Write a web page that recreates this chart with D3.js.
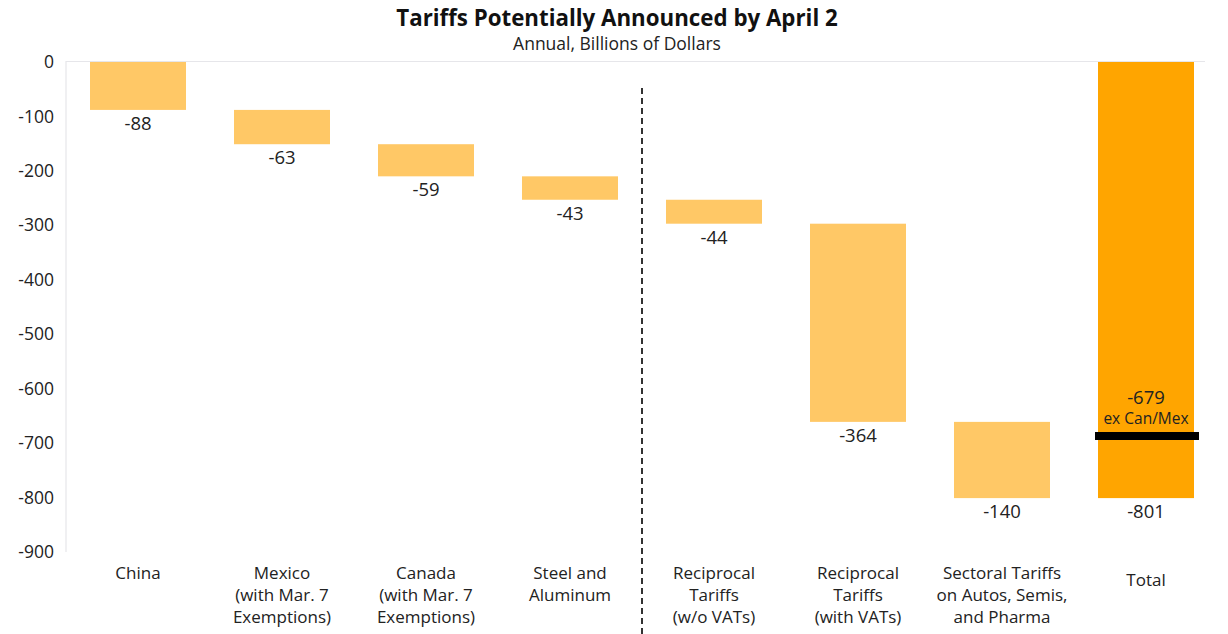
<!DOCTYPE html>
<html>
<head>
<meta charset="utf-8">
<script src="https://cdn.jsdelivr.net/npm/d3@7"></script>
<style>
  html, body { margin: 0; padding: 0; background: #fff; }
  svg { display: block; font-family: "Open Sans", "Lato", sans-serif; }
</style>
</head>
<body>
<svg id="chart" width="1228" height="634"></svg>
<script>
// ---- data ----
const categories = [
  "China",
  "Mexico\n(with Mar. 7\nExemptions)",
  "Canada\n(with Mar. 7\nExemptions)",
  "Steel and\nAluminum",
  "Reciprocal\nTariffs\n(w/o VATs)",
  "Reciprocal\nTariffs\n(with VATs)",
  "Sectoral Tariffs\non Autos, Semis,\nand Pharma",
  "Total"
];
const deltas = [-88, -63, -59, -43, -44, -364, -140];
const totalValue = -801;
const exCanMexLabel = "-679";
const exCanMexMarker = -687;
const yTicks = [0, -100, -200, -300, -400, -500, -600, -700, -800, -900];
const title = "Tariffs Potentially Announced by April 2";
const subtitle = "Annual, Billions of Dollars";

// ---- build waterfall rows ----
let run = 0;
const rows = deltas.map((d, i) => {
  const start = run; run += d;
  return { cat: categories[i], start, end: run, value: d, total: false };
});
rows.push({ cat: categories[7], start: 0, end: totalValue, value: totalValue, total: true });

const svg = d3.select("#chart");
const mLeft = 66, mRight = 1218, mTop = 62, mBottom = 552;
const FONT = "'Open Sans', Lato, sans-serif";

const x = d3.scaleBand().domain(categories).range([mLeft, mRight])
  .paddingInner(1/3).paddingOuter(1/6);
const y = d3.scaleLinear().domain([0, -900]).range([mTop, mBottom]);

// title
svg.append("text").attr("x", 617).attr("y", 26).attr("text-anchor", "middle")
  .attr("font-size", 22.3).attr("font-weight", 700).attr("fill", "#111").text(title);
svg.append("text").attr("x", 617).attr("y", 50).attr("text-anchor", "middle")
  .attr("font-size", 17.5).attr("fill", "#222").text(subtitle);

// axis lines
svg.append("line").attr("x1", mLeft).attr("x2", 1205).attr("y1", mTop - 0.5).attr("y2", mTop - 0.5)
  .attr("stroke", "#e6e6ea").attr("stroke-width", 1.2);
svg.append("line").attr("x1", mLeft).attr("x2", mLeft).attr("y1", mTop - 1).attr("y2", mBottom)
  .attr("stroke", "#e6e6ea").attr("stroke-width", 1.2);

// y axis labels
const yAxis = d3.axisLeft(y).tickValues(yTicks).tickSize(0).tickPadding(12)
  .tickFormat(d => String(d));
const gy = svg.append("g").attr("transform", `translate(${mLeft},0)`).call(yAxis);
gy.select(".domain").remove();
gy.selectAll("text").attr("font-size", 17.5).attr("fill", "#222").attr("font-family", FONT);

// dashed separator between Steel and Reciprocal
const sepX = (x(categories[3]) + x.bandwidth() + x(categories[4])) / 2;
svg.append("line").attr("x1", sepX).attr("x2", sepX).attr("y1", 88).attr("y2", 634)
  .attr("stroke", "#333").attr("stroke-width", 2).attr("stroke-dasharray", "6,4");

// bars
svg.selectAll("rect.bar").data(rows).join("rect").attr("class", "bar")
  .attr("x", d => x(d.cat))
  .attr("width", x.bandwidth())
  .attr("y", d => y(Math.max(d.start, d.end)))
  .attr("height", d => Math.abs(y(d.end) - y(d.start)))
  .attr("fill", d => d.total ? "#FFA500" : "#FFC866");

// value labels
svg.selectAll("text.val").data(rows).join("text").attr("class", "val")
  .attr("x", d => x(d.cat) + x.bandwidth() / 2)
  .attr("y", d => y(d.end) + 20)
  .attr("text-anchor", "middle").attr("font-size", 18.5).attr("fill", "#222")
  .text(d => String(d.value));

// ex Can/Mex marker on Total
const tx = x(categories[7]);
svg.append("line")
  .attr("x1", tx - 3).attr("x2", tx + x.bandwidth() + 5)
  .attr("y1", y(exCanMexMarker)).attr("y2", y(exCanMexMarker))
  .attr("stroke", "#000").attr("stroke-width", 8);
svg.append("text").attr("x", tx + x.bandwidth() / 2).attr("y", y(exCanMexMarker) - 32)
  .attr("text-anchor", "middle").attr("font-size", 18.5).attr("fill", "#222").text(exCanMexLabel);
svg.append("text").attr("x", tx + x.bandwidth() / 2).attr("y", y(exCanMexMarker) - 12)
  .attr("text-anchor", "middle").attr("font-size", 15.5).attr("fill", "#222").text("ex Can/Mex");

// x category labels
const xl = svg.selectAll("text.cat").data(categories).join("text").attr("class", "cat")
  .attr("text-anchor", "middle").attr("font-size", 17).attr("fill", "#222")
  .attr("transform", (d, i) => `translate(${x(d) + x.bandwidth() / 2},${i === 7 ? 586 : 579})`);
xl.each(function(d) {
  const lines = d.split("\n");
  d3.select(this).selectAll("tspan").data(lines).join("tspan")
    .attr("x", 0).attr("dy", (l, j) => j === 0 ? 0 : 22).text(l => l);
});
</script>
</body>
</html>
